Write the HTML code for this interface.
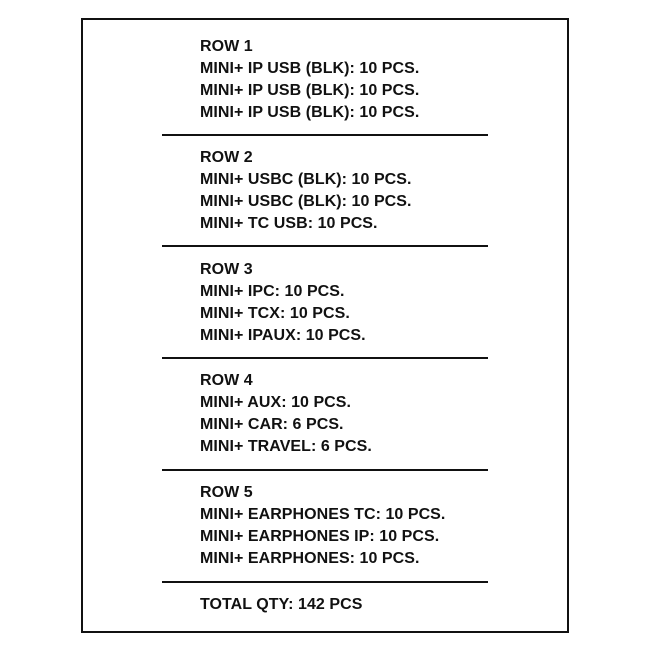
<!DOCTYPE html>
<html><head><style>
body{margin:0;width:650px;height:650px;background:#fff;position:relative;overflow:hidden}
.box{position:absolute;left:81px;top:18px;width:484px;height:611px;border:2px solid #111}
.ln{position:absolute;left:162px;width:326px;height:2px;background:#111}
.t{position:absolute;left:200px;font-family:"Liberation Sans",sans-serif;font-weight:bold;font-size:16px;letter-spacing:0.05px;color:#111;white-space:nowrap;line-height:22px}
</style></head><body>
<div class="box"></div>
<div class="ln" style="top:134px"></div>
<div class="ln" style="top:245px"></div>
<div class="ln" style="top:357px"></div>
<div class="ln" style="top:469px"></div>
<div class="ln" style="top:581px"></div>
<div class="t" style="top:36px">ROW 1<br>MINI+ IP USB (BLK): 10 PCS.<br>MINI+ IP USB (BLK): 10 PCS.<br>MINI+ IP USB (BLK): 10 PCS.</div>
<div class="t" style="top:147px">ROW 2<br>MINI+ USBC (BLK): 10 PCS.<br>MINI+ USBC (BLK): 10 PCS.<br>MINI+ TC USB: 10 PCS.</div>
<div class="t" style="top:259px">ROW 3<br>MINI+ IPC: 10 PCS.<br>MINI+ TCX: 10 PCS.<br>MINI+ IPAUX: 10 PCS.</div>
<div class="t" style="top:370px">ROW 4<br>MINI+ AUX: 10 PCS.<br>MINI+ CAR: 6 PCS.<br>MINI+ TRAVEL: 6 PCS.</div>
<div class="t" style="top:482px">ROW 5<br>MINI+ EARPHONES TC: 10 PCS.<br>MINI+ EARPHONES IP: 10 PCS.<br>MINI+ EARPHONES: 10 PCS.</div>
<div class="t" style="top:594px">TOTAL QTY: 142 PCS</div>
</body></html>
